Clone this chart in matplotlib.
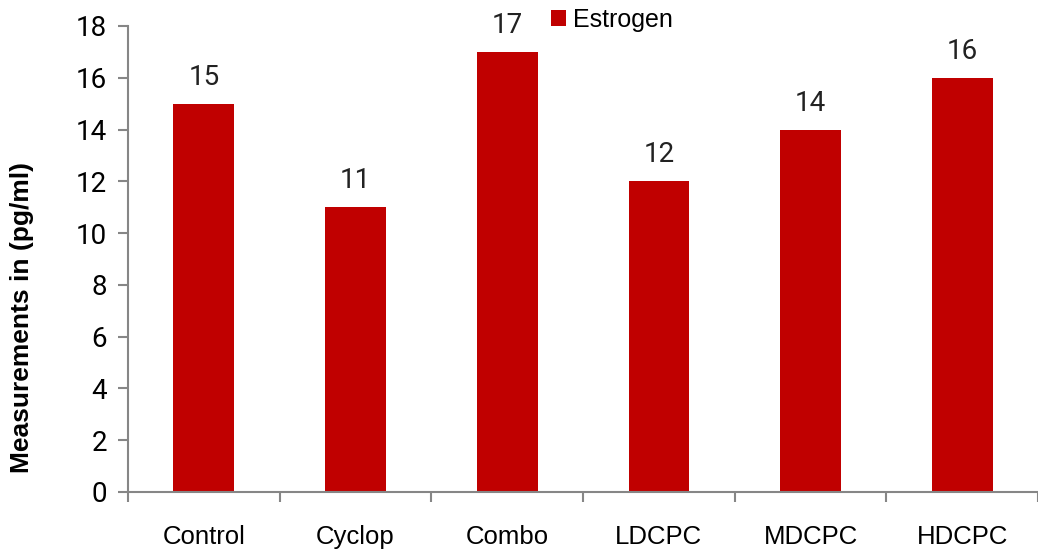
import numpy as np
import matplotlib.pyplot as plt
from matplotlib.patches import Patch

# ---------- Data ----------
groups = ["Control", "Cyclop", "Combo", "LDCPC", "MDCPC", "HDCPC"]
estrogen = [15, 11, 17, 12, 14, 16]
y_ticks = [0, 2, 4, 6, 8, 10, 12, 14, 16, 18]

BAR_COLOR = "#C00000"
AXIS_COLOR = "#868686"

fig = plt.figure(figsize=(10.38, 5.52), dpi=100)
ax = fig.add_axes([128 / 1038, 1 - 492 / 552, 1 - 128 / 1038, (492 - 26) / 552])

x = np.arange(len(groups))
ax.bar(x, estrogen, width=0.40, color=BAR_COLOR, zorder=2)

# value labels above bars
for xi, v in zip(x, estrogen):
    ax.text(xi, v + 0.5, str(v), ha="center", va="bottom",
            fontsize=20, family="Roboto", color="#222222")

ax.set_xlim(-0.5, 5.467)
ax.set_ylim(0, 18)
ax.set_yticks(y_ticks)
ax.set_yticklabels([str(t) for t in y_ticks], fontsize=20, family="Roboto")

ax.set_xticks(x)
ax.set_xticklabels(groups, fontsize=18.5, family="Liberation Sans")
ax.tick_params(axis="x", which="major", length=0, pad=24)
ax.set_xticks(np.arange(-0.5, len(groups), 1.0), minor=True)
ax.tick_params(axis="x", which="minor", length=7, width=1.5, color=AXIS_COLOR)
ax.tick_params(axis="y", length=7, width=1.5, color=AXIS_COLOR, pad=8)

for side in ["top", "right"]:
    ax.spines[side].set_visible(False)
for side in ["left", "bottom"]:
    ax.spines[side].set_color(AXIS_COLOR)
    ax.spines[side].set_linewidth(1.5)

ax.set_ylabel("Measurements in (pg/ml)", fontsize=19, fontweight="bold",
              family="Liberation Sans")
ax.yaxis.set_label_coords(-0.103, 0.375)

handle = Patch(facecolor=BAR_COLOR, edgecolor="none")
fig.legend([handle], ["Estrogen"], loc="center", bbox_to_anchor=(612 / 1038, 1 - 20 / 552),
           frameon=False, prop={"family": "Liberation Sans", "size": 18},
           handlelength=0.6, handleheight=0.6, handletextpad=0.3)

fig.savefig("out.png", dpi=100)
